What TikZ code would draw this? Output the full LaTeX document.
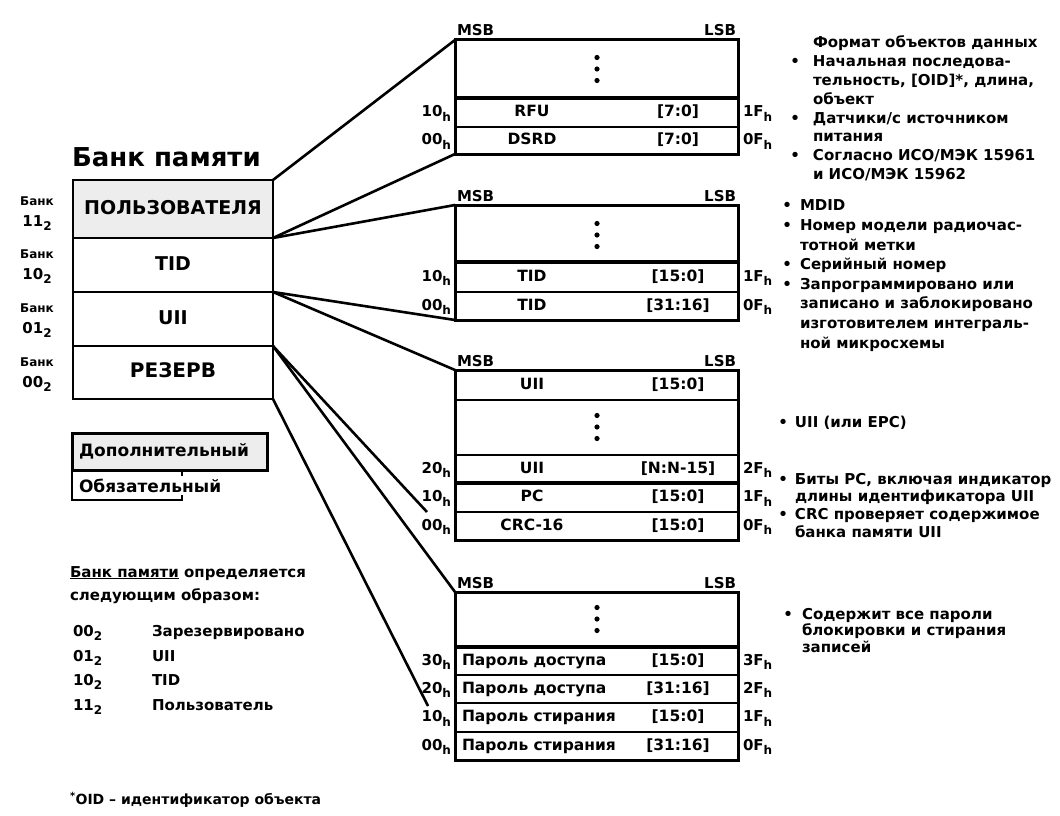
\documentclass[tikz,border=0pt]{standalone}
\usepackage{fontspec}
\setmainfont{DejaVu Sans}
\definecolor{shade}{gray}{0.93}
\newcommand\lo[1]{\raisebox{-0.6ex}{\fontsize{12}{12}\selectfont #1}}
\newcommand\bul[1]{\llap{•\hspace{#1pt}}}
\tikzset{
  every node/.style={inner sep=0pt, outer sep=0pt, font=\bfseries\fontsize{15}{18}\selectfont},
  cell/.style={draw, line width=2.2pt, anchor=north west, minimum width=283pt},
  lcell/.style={draw, line width=2.6pt, anchor=north west, minimum width=200pt},
  conn/.style={line width=2.6pt},
  txt/.style={text height=11pt, text depth=3pt},
  rtxt/.style={font=\bfseries\fontsize{15.5}{18}\selectfont, text height=11pt, text depth=3pt},
  big/.style={font=\bfseries\fontsize{19}{22}\selectfont, text height=14pt, text depth=4pt},
  small/.style={font=\bfseries\fontsize{12}{14}\selectfont},
  note/.style={anchor=north west, align=left},
  sepline/.style={line width=4.5pt},
  outline/.style={line width=3pt},
}
% name, ytop, height, label, range, addrL, addrR
\newcommand\memrow[7]{%
  \node[cell, minimum height=#3pt] (#1) at (455,#2) {};
  \node[rtxt] (#1l) at (532,{#2+#3/2}) {#4};
  \node[rtxt] (#1r) at (678,{#2+#3/2}) {#5};
  \node[txt, anchor=east] (#1a) at (451,{#2+#3/2}) {#6\lo{h}};
  \node[txt, anchor=west] (#1z) at (743,{#2+#3/2}) {#7\lo{h}};
}
\newcommand\memrowL[7]{%
  \node[cell, minimum height=#3pt] (#1) at (455,#2) {};
  \node[rtxt, anchor=west] (#1l) at (462,{#2+#3/2}) {#4};
  \node[rtxt] (#1r) at (678,{#2+#3/2}) {#5};
  \node[txt, anchor=east] (#1a) at (451,{#2+#3/2}) {#6\lo{h}};
  \node[txt, anchor=west] (#1z) at (743,{#2+#3/2}) {#7\lo{h}};
}
\newcommand\vdotsat[2]{%
  \fill (#1,{#2-11.5}) circle (2.6pt);
  \fill (#1,#2) circle (2.6pt);
  \fill (#1,{#2+11.5}) circle (2.6pt);
}
\begin{document}
\begin{tikzpicture}[x=1pt, y=-1pt]
\useasboundingbox (0,0) rectangle (1060,816);
\fill[white] (0,0) rectangle (1060,816);

% ---------- left memory bank box ----------
\node[anchor=west, font=\bfseries\fontsize{26}{28}\selectfont] (title) at (72,157) {Банк памяти};
\node[lcell, fill=shade, minimum height=58pt] (lu) at (73,180) {};
\node[big] (lut) at (lu.center) {ПОЛЬЗОВАТЕЛЯ};
\node[lcell, minimum height=54pt] (lt) at (73,238) {};
\node[big] (ltt) at (lt.center) {TID};
\node[lcell, minimum height=54pt] (li) at (73,292) {};
\node[big] (lit) at (li.center) {UII};
\node[lcell, minimum height=53pt] (lr) at (73,346) {};
\node[big, font=\bfseries\fontsize{20}{22}\selectfont] (lrt) at (lr.center) {РЕЗЕРВ};

% bank numbers
\node[small] (bk3) at (37,201) {Банк};
\node[txt] (bk3n) at (37,222) {11\lo{2}};
\node[small] (bk2) at (37,254) {Банк};
\node[txt] (bk2n) at (37,275) {10\lo{2}};
\node[small] (bk1) at (37,308) {Банк};
\node[txt] (bk1n) at (37,329) {01\lo{2}};
\node[small] (bk0) at (37,362) {Банк};
\node[txt] (bk0n) at (37,383) {00\lo{2}};

% ---------- legend ----------
\node[draw, line width=3pt, fill=shade, anchor=north west, minimum width=195pt, minimum height=37pt] (opt) at (72,433) {};
\node[anchor=west, font=\bfseries\fontsize{17}{20}\selectfont] (optt) at (79,451.5) {Дополнительный};
\node[anchor=north west, minimum width=110pt, minimum height=30pt] (mand) at (72,470) {};
\draw[line width=2.2pt] (mand.north west) -- (mand.south west) -- (mand.south east) -- ++(0,-5);
\draw[line width=2pt] (mand.north east) -- ++(0,6);
\node[anchor=west, font=\bfseries\fontsize{17}{20}\selectfont] (mandt) at (79,486) {Обязательный};

\node[anchor=west, txt] (def1) at (70,573) {\underline{Банк памяти} определяется};
\node[anchor=west, txt] (def2) at (70,596) {следующим образом:};

\node[anchor=west, txt] (c0) at (73,632) {00\lo{2}};
\node[anchor=west, txt] (c1) at (73,657) {01\lo{2}};
\node[anchor=west, txt] (c2) at (73,681) {10\lo{2}};
\node[anchor=west, txt] (c3) at (73,706) {11\lo{2}};
\node[anchor=west, txt] (d0) at (152,632) {Зарезервировано};
\node[anchor=west, txt] (d1) at (152,657) {UII};
\node[anchor=west, txt] (d2) at (152,681) {TID};
\node[anchor=west, txt] (d3) at (152,706) {Пользователь};

\node[anchor=west, font=\bfseries\fontsize{14}{16}\selectfont] (foot) at (70,800) {\textsuperscript{*}OID – идентификатор объекта};

% ---------- box 1: user memory ----------
\node[anchor=base west] (msb1) at (457,36) {MSB};
\node[anchor=base east] (lsb1) at (736,36) {LSB};
\node[cell, minimum height=58pt] (b1e) at (455,40) {};
\memrow{b1a}{98}{29}{RFU}{[7:0]}{10}{1F}
\memrow{b1b}{127}{27}{DSRD}{[7:0]}{00}{0F}
\draw[outline] (b1e.north west) rectangle (b1b.south east);
\draw[sepline] (b1a.north west) -- (b1a.north east);
\vdotsat{597}{69}

% ---------- box 2: TID ----------
\node[anchor=base west] (msb2) at (457,201) {MSB};
\node[anchor=base east] (lsb2) at (736,201) {LSB};
\node[cell, minimum height=57pt] (b2e) at (455,205) {};
\memrow{b2a}{262}{30}{TID}{[15:0]}{10}{1F}
\memrow{b2b}{292}{28}{TID}{[31:16]}{00}{0F}
\draw[outline] (b2e.north west) rectangle (b2b.south east);
\draw[sepline] (b2a.north west) -- (b2a.north east);
\vdotsat{597}{235}

% ---------- box 3: UII ----------
\node[anchor=base west] (msb3) at (457,366) {MSB};
\node[anchor=base east] (lsb3) at (736,366) {LSB};
\node[cell, minimum height=30pt] (b3a) at (455,370) {};
\node[rtxt] (b3al) at (532,385) {UII};
\node[rtxt] (b3ar) at (678,385) {[15:0]};
\node[cell, minimum height=55pt] (b3e) at (455,400) {};
\memrow{b3b}{455}{28}{UII}{[N:N-15]}{20}{2F}
\memrow{b3c}{483}{29}{PC}{[15:0]}{10}{1F}
\memrow{b3d}{512}{28}{CRC-16}{[15:0]}{00}{0F}
\draw[outline] (b3a.north west) rectangle (b3d.south east);
\draw[sepline] (b3c.north west) -- (b3c.north east);
\vdotsat{597}{427}

% ---------- box 4: reserved ----------
\node[anchor=base west] (msb4) at (457,588) {MSB};
\node[anchor=base east] (lsb4) at (736,588) {LSB};
\node[cell, minimum height=55pt] (b4e) at (455,592) {};
\memrowL{b4a}{647}{28}{Пароль доступа}{[15:0]}{30}{3F}
\memrowL{b4b}{675}{28}{Пароль доступа}{[31:16]}{20}{2F}
\memrowL{b4c}{703}{29}{Пароль стирания}{[15:0]}{10}{1F}
\memrowL{b4d}{732}{28}{Пароль стирания}{[31:16]}{00}{0F}
\draw[outline] (b4e.north west) rectangle (b4d.south east);
\draw[sepline] (b4a.north west) -- (b4a.north east);
\vdotsat{597}{619}

% ---------- connectors ----------
\coordinate (e3) at (427,512);
\coordinate (e4) at (428,706);
\draw[conn] (lu.north east) -- (b1e.north west);
\draw[conn] (lu.south east) -- (b1b.south west);
\draw[conn] (lt.north east) -- (b2e.north west);
\draw[conn] (lt.south east) -- (b2b.south west);
\draw[conn] (li.north east) -- (b3a.north west);
\draw[conn] (li.south east) -- (e3);
\draw[conn] (lr.north east) -- (b4e.north west);
\draw[conn] (lr.south east) -- (e4);

% ---------- notes ----------
\node[note, font=\bfseries\fontsize{15}{18.8}\selectfont] (n1) at (813,36) {Формат объектов данных\\
\bul{13}Начальная последова-\\
тельность, [OID]*, длина,\\
объект\\
\bul{13}Датчики/с источником\\
питания\\
\bul{13}Согласно ИСО/МЭК 15961\\
и ИСО/МЭК 15962};

\node[note, font=\bfseries\fontsize{15}{19.6}\selectfont] (n2) at (800,200) {\bul{8}MDID\\
\bul{8}Номер модели радиочас-\\
тотной метки\\
\bul{8}Серийный номер\\
\bul{8}Запрограммировано или\\
записано и заблокировано\\
изготовителем интеграль-\\
ной микросхемы};

\node[note] (n3a) at (795,416) {\bul{7}UII (или EPC)};

\node[note, font=\bfseries\fontsize{15}{17.7}\selectfont] (n3b) at (795,473) {\bul{7}Биты PC, включая индикатор\\
длины идентификатора UII\\
\bul{7}CRC проверяет содержимое\\
банка памяти UII};

\node[note, font=\bfseries\fontsize{15}{16.8}\selectfont] (n4) at (802,608) {\bul{9}Содержит все пароли\\
блокировки и стирания\\
записей};
\end{tikzpicture}
\end{document}
